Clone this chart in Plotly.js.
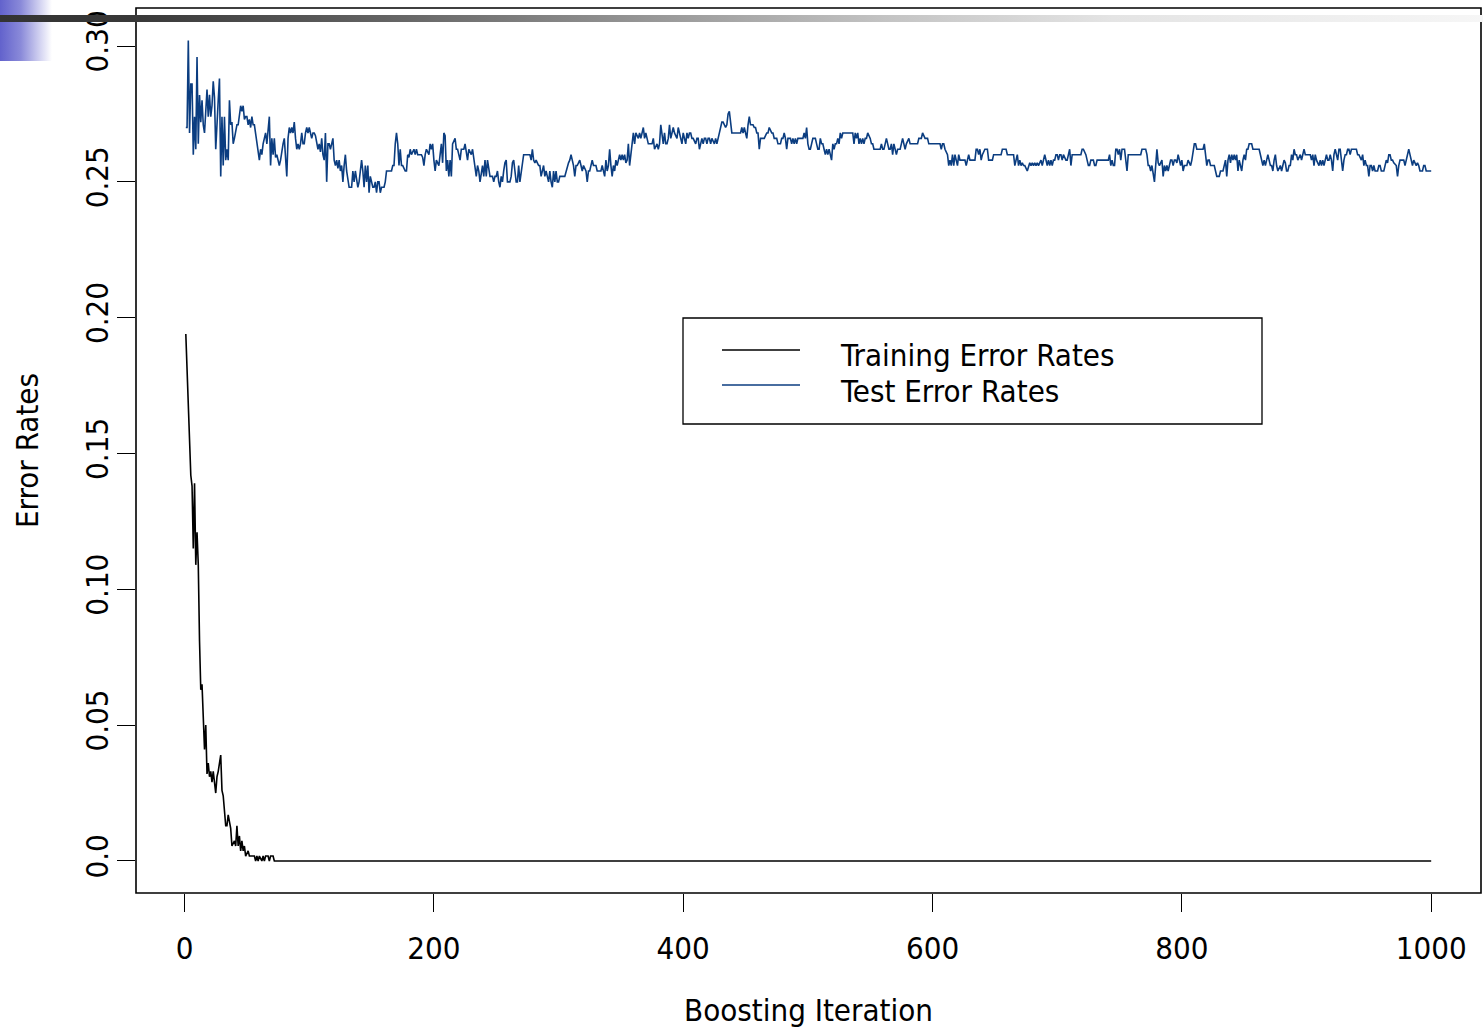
<!DOCTYPE html>
<html>
<head>
<meta charset="utf-8">
<script src="https://cdn.plot.ly/plotly-3.0.1.min.js"></script>
<style>
html,body{margin:0;padding:0;background:#ffffff;}
#wrap{position:relative;width:1483px;height:1030px;overflow:hidden;}
#chart{position:absolute;left:0;top:0;width:1483px;height:1030px;}
#deco-blue{position:absolute;left:0;top:0;width:52px;height:61px;
  background:linear-gradient(to right,#6262cc 0%,#8a8ad9 40%,#cfcff0 75%,#ffffff 100%);pointer-events:none;}
#deco-bar{position:absolute;left:0;top:15px;width:1483px;height:7px;
  background:linear-gradient(to right,#333333 0%,#383838 9%,#666666 27%,#9a9a9a 45%,#c4c4c4 60%,#e4e4e4 75%,#f6f6f6 100%);pointer-events:none;}
</style>
</head>
<body>
<div id="wrap">
  <div id="chart"></div>
  <div id="deco-blue"></div>
  <div id="deco-bar"></div>
</div>
<script>
// ---------------- data ----------------
const xTickVals = [0, 200, 400, 600, 800, 1000];
const xTickText = ['0', '200', '400', '600', '800', '1000'];
const yTickVals = [0, 0.05, 0.10, 0.15, 0.20, 0.25, 0.30];
const yTickText = ['0.0', '0.05', '0.10', '0.15', '0.20', '0.25', '0.30'];

const seriesNames = ['Training Error Rates', 'Test Error Rates'];

// training error, [iteration, rate]
const trainPoints = [
 [1,.194],[5,.142],[6,.138],[7,.115],[8,.139],[9,.109],[10,.121],[11,.109],[12,.081],[13,.063],
 [14,.065],[16,.041],[17,.050],[18,.032],[19,.036],[20,.031],[21,.033],[22,.029],[23,.033],[25,.025],
 [26,.031],[27,.033],[29,.039],[30,.026],[31,.024],[33,.013],[34,.013],[35,.017],[37,.012],[38,.0055],
 [40,.0074],[41,.0055],[42,.0129],[43,.0055],[44,.0092],[45,.0037],[46,.0074],[47,.0037],[48,.0055],[49,.0018],
 [51,.0037],[52,.0018],[53,.0018],[56,.0018],[57,0],[58,.0018],[59,0],[60,.0018],[62,0],[63,.0018],
 [64,0],[65,.0018],[67,.0018],[68,0],[69,.0018],[71,.0018],[72,0],[1000,0]
];

// test error, [iteration, rate]
const testPoints = [
 [1,.270],[2,.270],[3,.302],[4,.268],[5,.286],[6,.286],[7,.260],[8,.274],[9,.262],[10,.296],
 [11,.264],[12,.282],[13,.272],[14,.280],[15,.271],[16,.268],[17,.276],[18,.284],[19,.274],[20,.282],
 [21,.274],[22,.278],[23,.287],[24,.281],[25,.262],[26,.274],[27,.280],[28,.288],[29,.252],[30,.274],
 [31,.256],[32,.274],[33,.258],[34,.262],[35,.258],[36,.280],[37,.271],[38,.272],[39,.264],[40,.266],
 [41,.268],[42,.271],[43,.271],[44,.274],[45,.278],[46,.276],[47,.278],[48,.273],[49,.274],[50,.274],
 [51,.271],[52,.273],[53,.270],[54,.274],[55,.271],[56,.271],[57,.268],[58,.264],[59,.262],[60,.258],
 [61,.262],[62,.260],[63,.264],[64,.266],[65,.268],[66,.264],[67,.271],[68,.274],[69,.256],[70,.266],
 [71,.260],[72,.266],[73,.259],[74,.260],[75,.258],[76,.256],[77,.258],[78,.262],[79,.264],[80,.266],
 [81,.260],[82,.252],[83,.266],[84,.270],[85,.268],[86,.270],[87,.268],[88,.272],[89,.266],[90,.262],
 [91,.264],[92,.262],[93,.264],[94,.268],[95,.264],[96,.264],[97,.268],[98,.270],[99,.268],[100,.270],
 [101,.268],[102,.266],[103,.268],[104,.268],[105,.267],[106,.264],[107,.262],[108,.264],[109,.261],[110,.266],
 [111,.260],[112,.258],[113,.268],[114,.250],[115,.264],[116,.264],[117,.262],[118,.264],[119,.266],[120,.258],
 [121,.256],[122,.258],[123,.255],[124,.258],[125,.254],[126,.256],[127,.250],[128,.256],[129,.260],[130,.254],
 [131,.250],[132,.248],[133,.248],[134,.248],[135,.254],[136,.250],[137,.254],[138,.250],[139,.248],[140,.250],
 [141,.254],[142,.258],[143,.254],[144,.248],[145,.256],[146,.250],[147,.256],[148,.246],[149,.252],[150,.250],
 [151,.248],[152,.248],[153,.250],[154,.246],[155,.250],[156,.250],[157,.246],[158,.248],[159,.248],[160,.248],
 [161,.250],[162,.254],[163,.254],[164,.254],[166,.254],[167,.256],[168,.256],[169,.264],[170,.268],[171,.264],
 [172,.256],[173,.262],[174,.256],[175,.256],[177,.254],[178,.254],[179,.260],[180,.259],[181,.262],[182,.260],
 [184,.262],[185,.260],[186,.262],[187,.260],[190,.260],[191,.259],[192,.256],[193,.260],[194,.262],[196,.260],
 [197,.264],[198,.262],[199,.264],[200,.258],[201,.254],[202,.258],[203,.257],[204,.256],[205,.260],[206,.264],
 [207,.257],[208,.268],[209,.267],[210,.254],[211,.258],[212,.252],[213,.258],[214,.252],[215,.264],[217,.266],
 [218,.262],[219,.262],[220,.260],[221,.258],[222,.262],[224,.262],[225,.264],[226,.260],[227,.258],[228,.262],
 [230,.260],[231,.262],[232,.258],[233,.256],[234,.252],[235,.256],[236,.254],[237,.250],[238,.254],[239,.256],
 [240,.252],[241,.258],[242,.252],[243,.258],[245,.252],[247,.252],[248,.250],[249,.252],[250,.252],[251,.254],
 [252,.250],[253,.248],[254,.252],[255,.250],[256,.254],[257,.257],[258,.258],[259,.250],[261,.250],[262,.252],
 [263,.257],[264,.258],[265,.254],[266,.250],[267,.250],[268,.256],[269,.250],[270,.254],[271,.257],[272,.260],
 [277,.260],[278,.258],[279,.262],[280,.258],[281,.257],[282,.258],[283,.257],[284,.256],[285,.256],[286,.252],
 [287,.254],[288,.256],[289,.252],[290,.254],[292,.250],[293,.254],[294,.250],[295,.248],[296,.254],[297,.250],
 [298,.254],[299,.250],[300,.250],[301,.252],[305,.252],[307,.256],[308,.257],[309,.258],[310,.260],[311,.258],
 [312,.256],[313,.252],[314,.256],[315,.256],[316,.257],[317,.258],[318,.256],[319,.254],[320,.256],[322,.254],
 [323,.250],[324,.254],[325,.254],[326,.256],[327,.258],[328,.256],[329,.256],[330,.256],[331,.254],[334,.254],
 [335,.256],[336,.254],[337,.252],[338,.258],[339,.254],[340,.256],[341,.262],[342,.256],[343,.252],[344,.256],
 [345,.254],[346,.258],[347,.256],[349,.260],[350,.258],[351,.260],[352,.258],[353,.260],[354,.257],[355,.258],
 [356,.264],[357,.256],[358,.260],[359,.264],[360,.268],[361,.264],[362,.268],[364,.266],[365,.268],[366,.266],
 [367,.268],[368,.270],[369,.266],[370,.268],[371,.266],[372,.264],[375,.264],[376,.266],[377,.262],[379,.264],
 [380,.262],[381,.264],[382,.271],[383,.268],[384,.264],[385,.268],[386,.264],[387,.264],[388,.266],[389,.271],
 [390,.266],[391,.268],[392,.270],[393,.268],[395,.266],[396,.270],[397,.268],[398,.266],[399,.264],[400,.268],
 [401,.266],[402,.264],[403,.268],[404,.266],[405,.268],[406,.268],[407,.266],[408,.266],[410,.264],[411,.266],
 [412,.266],[413,.262],[414,.264],[415,.266],[416,.264],[417,.266],[418,.266],[419,.264],[420,.266],[421,.266],
 [422,.264],[423,.266],[425,.264],[426,.266],[427,.264],[428,.266],[429,.268],[430,.271],[431,.272],[432,.272],
 [433,.271],[434,.270],[435,.271],[436,.275],[437,.276],[438,.271],[439,.268],[446,.268],[447,.270],[448,.268],
 [449,.270],[450,.268],[451,.266],[452,.271],[453,.274],[454,.271],[456,.271],[457,.270],[458,.270],[459,.268],
 [460,.268],[461,.262],[462,.266],[465,.266],[466,.267],[467,.268],[468,.268],[469,.270],[471,.268],[472,.268],
 [473,.266],[475,.266],[476,.264],[478,.264],[479,.266],[480,.266],[481,.268],[482,.266],[483,.262],[484,.266],
 [486,.266],[487,.264],[488,.266],[489,.264],[490,.266],[491,.264],[492,.266],[496,.266],[497,.268],[498,.266],
 [499,.270],[500,.264],[501,.262],[502,.262],[504,.266],[506,.266],[507,.264],[508,.262],[509,.262],[510,.266],
 [511,.264],[512,.264],[513,.262],[514,.260],[515,.262],[516,.260],[517,.262],[519,.258],[520,.264],[521,.262],
 [522,.264],[523,.264],[524,.266],[525,.264],[526,.268],[527,.266],[528,.268],[536,.268],[537,.264],[538,.268],
 [539,.266],[540,.268],[541,.264],[542,.266],[543,.264],[544,.266],[545,.264],[546,.266],[547,.266],[548,.268],
 [550,.266],[551,.264],[552,.264],[553,.262],[558,.262],[559,.264],[560,.262],[561,.262],[562,.264],[563,.266],
 [565,.262],[566,.262],[567,.264],[568,.260],[569,.264],[570,.262],[571,.260],[572,.262],[574,.262],[575,.264],
 [576,.266],[577,.264],[578,.262],[579,.264],[581,.266],[582,.264],[588,.264],[589,.266],[591,.266],[592,.268],
 [593,.267],[594,.266],[596,.266],[597,.264],[606,.264],[607,.262],[608,.264],[609,.264],[610,.262],[612,.260],
 [613,.256],[614,.258],[615,.256],[616,.260],[617,.256],[618,.260],[619,.258],[620,.256],[621,.260],[622,.258],
 [626,.258],[627,.256],[629,.260],[630,.258],[634,.258],[635,.262],[636,.262],[637,.260],[638,.262],[639,.258],
 [640,.260],[642,.262],[644,.262],[645,.258],[648,.258],[649,.260],[655,.260],[656,.262],[659,.262],[660,.260],
 [665,.260],[666,.256],[667,.258],[668,.260],[669,.256],[670,.258],[671,.256],[672,.257],[673,.256],[674,.256],
 [676,.254],[677,.256],[678,.257],[679,.256],[680,.257],[681,.256],[682,.257],[683,.256],[684,.257],[685,.256],
 [686,.257],[687,.258],[688,.256],[689,.258],[690,.260],[692,.256],[693,.258],[694,.256],[695,.258],[696,.256],
 [697,.258],[698,.258],[699,.260],[700,.260],[701,.258],[702,.260],[703,.260],[704,.258],[705,.260],[707,.258],
 [708,.258],[709,.260],[710,.262],[711,.256],[712,.260],[719,.260],[720,.262],[721,.262],[723,.260],[724,.258],
 [725,.256],[726,.256],[727,.258],[729,.258],[730,.256],[731,.256],[732,.258],[741,.258],[742,.260],[743,.256],
 [744,.258],[745,.256],[746,.256],[747,.262],[748,.262],[749,.260],[750,.262],[751,.258],[752,.262],[754,.262],
 [755,.258],[756,.254],[757,.260],[767,.260],[768,.262],[771,.262],[772,.260],[773,.256],[774,.256],[775,.254],
 [776,.256],[777,.252],[778,.250],[779,.256],[780,.262],[781,.257],[782,.256],[784,.258],[785,.252],[786,.256],
 [787,.254],[788,.256],[789,.254],[790,.256],[791,.258],[792,.258],[793,.256],[794,.258],[795,.258],[796,.257],
 [797,.260],[799,.256],[800,.258],[801,.254],[802,.256],[804,.256],[805,.258],[806,.257],[807,.256],[808,.258],
 [809,.262],[810,.264],[811,.264],[812,.262],[817,.262],[818,.264],[819,.260],[820,.256],[821,.258],[822,.258],
 [823,.256],[826,.256],[827,.254],[828,.252],[830,.252],[831,.254],[833,.254],[834,.256],[835,.258],[836,.252],
 [837,.258],[838,.260],[839,.257],[840,.260],[841,.258],[842,.260],[843,.258],[844,.260],[845,.254],[846,.258],
 [848,.254],[849,.258],[850,.260],[851,.258],[852,.262],[853,.262],[854,.264],[856,.264],[857,.262],[862,.262],
 [864,.258],[865,.256],[866,.258],[867,.256],[868,.258],[869,.260],[870,.258],[871,.256],[872,.256],[873,.254],
 [874,.258],[875,.260],[876,.256],[877,.254],[879,.256],[880,.254],[881,.256],[882,.258],[883,.257],[884,.254],
 [885,.254],[886,.256],[887,.256],[888,.260],[889,.258],[890,.262],[891,.260],[892,.260],[893,.258],[895,.260],
 [896,.258],[897,.260],[898,.262],[899,.260],[903,.260],[904,.258],[905,.260],[906,.256],[907,.260],[908,.258],
 [910,.256],[911,.258],[912,.256],[913,.258],[914,.256],[915,.258],[916,.260],[917,.258],[918,.258],[919,.260],
 [920,.258],[921,.254],[922,.260],[923,.262],[925,.258],[926,.262],[927,.262],[928,.258],[929,.254],[930,.258],
 [931,.260],[932,.260],[933,.262],[934,.262],[935,.260],[936,.262],[940,.262],[941,.260],[942,.260],[944,.258],
 [945,.260],[946,.256],[947,.258],[948,.256],[949,.256],[950,.252],[951,.256],[952,.256],[953,.254],[954,.256],
 [955,.254],[957,.254],[958,.256],[959,.256],[960,.254],[962,.254],[963,.256],[964,.258],[965,.257],[966,.260],
 [967,.260],[968,.258],[969,.258],[970,.257],[972,.256],[973,.252],[974,.256],[975,.258],[978,.258],[979,.256],
 [980,.258],[981,.260],[982,.262],[983,.260],[984,.258],[985,.256],[986,.258],[988,.256],[989,.257],[990,.256],
 [991,.254],[993,.254],[994,.256],[995,.256],[996,.254],[1000,.254]
];

// ---------------- styling ----------------
const FONT = "'Liberation Sans Narrow', 'Arial Narrow', 'DejaVu Sans Condensed', sans-serif";
const FS = 31;
const TRAIN_COLOR = '#000000';
const TEST_COLOR = '#0b3d80';

// plot area in page pixels (for placing legend/box in paper units)
const PL = 136, PR = 1481, PT = 8, PB = 893;
const px = v => (v - PL) / (PR - PL);
const py = v => (PB - v) / (PB - PT);

const traces = [
  {
    x: trainPoints.map(p => p[0]), y: trainPoints.map(p => p[1]),
    name: seriesNames[0], mode: 'lines', type: 'scatter',
    line: {color: TRAIN_COLOR, width: 1.6}, hoverinfo: 'skip'
  },
  {
    x: testPoints.map(p => p[0]), y: testPoints.map(p => p[1]),
    name: seriesNames[1], mode: 'lines', type: 'scatter',
    line: {color: TEST_COLOR, width: 1.6}, hoverinfo: 'skip'
  }
];

const layout = {
  width: 1483, height: 1030,
  margin: {l: PL, r: 1483 - PR, t: PT, b: 1030 - PB, pad: 0},
  paper_bgcolor: '#ffffff', plot_bgcolor: '#ffffff',
  showlegend: false,
  font: {family: FONT, size: FS, color: '#000000'},
  xaxis: {
    range: [-38.96, 1039.96], tickmode: 'array', tickvals: xTickVals, ticktext: xTickText,
    ticks: 'outside', ticklen: 18, tickwidth: 1, tickcolor: '#000',
    showgrid: false, zeroline: false, showline: false,
    ticklabelstandoff: 10,
    tickfont: {family: FONT, size: FS, color: '#000'},
    title: {text: 'Boosting Iteration', font: {family: FONT, size: FS, color: '#000'}, standoff: 34},
    automargin: false
  },
  yaxis: {
    range: [-0.0118, 0.3140], tickmode: 'array', tickvals: yTickVals, ticktext: yTickText,
    ticks: 'outside', ticklen: 18, tickwidth: 1, tickcolor: '#000', tickangle: -90,
    showgrid: false, zeroline: false, showline: false,
    ticklabelstandoff: -3,
    tickfont: {family: FONT, size: FS, color: '#000'},
    title: {text: 'Error Rates', font: {family: FONT, size: FS, color: '#000'}, standoff: 30},
    automargin: false
  },
  shapes: [
    // plot frame
    {type: 'rect', xref: 'paper', yref: 'paper', x0: 0, x1: 1, y0: 0, y1: 1,
     line: {color: '#000', width: 1.6}, fillcolor: 'rgba(0,0,0,0)', layer: 'above'},
    // legend box
    {type: 'rect', xref: 'paper', yref: 'paper', x0: px(683), x1: px(1262), y0: py(424), y1: py(318),
     line: {color: '#000', width: 1.3}, fillcolor: '#ffffff', layer: 'above'},
    {type: 'line', xref: 'paper', yref: 'paper', x0: px(722), x1: px(800), y0: py(350), y1: py(350),
     line: {color: TRAIN_COLOR, width: 1.6}, layer: 'above'},
    {type: 'line', xref: 'paper', yref: 'paper', x0: px(722), x1: px(800), y0: py(385), y1: py(385),
     line: {color: TEST_COLOR, width: 1.6}, layer: 'above'}
  ],
  annotations: [
    {xref: 'paper', yref: 'paper', x: px(838), y: py(355), xanchor: 'left', yanchor: 'middle',
     text: seriesNames[0], showarrow: false, font: {family: FONT, size: FS, color: '#000'}},
    {xref: 'paper', yref: 'paper', x: px(838), y: py(391), xanchor: 'left', yanchor: 'middle',
     text: seriesNames[1], showarrow: false, font: {family: FONT, size: FS, color: '#000'}}
  ]
};

Plotly.newPlot('chart', traces, layout, {displayModeBar: false, staticPlot: true});
</script>
</body>
</html>
